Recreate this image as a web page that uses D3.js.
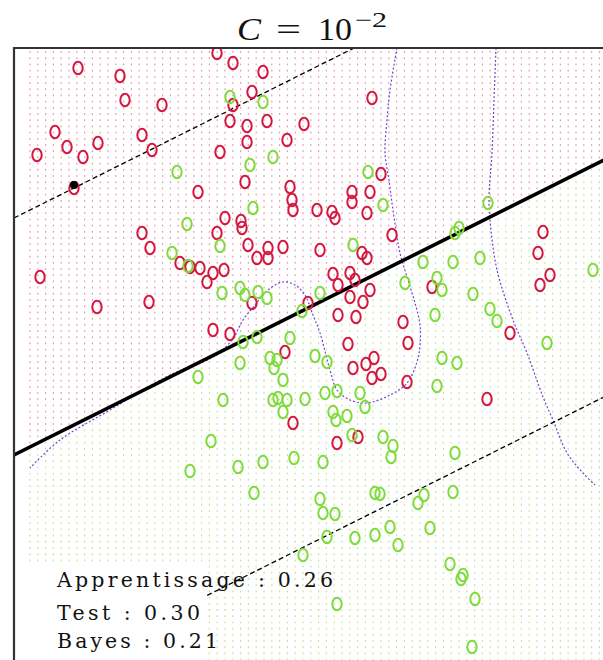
<!DOCTYPE html>
<html>
<head>
<meta charset="utf-8">
<script src="https://cdn.jsdelivr.net/npm/d3@7/dist/d3.min.js"></script>
<style>
  html, body { margin: 0; padding: 0; background: #fff; }
  svg { display: block; }
</style>
</head>
<body>
<svg id="chart" width="603" height="660"></svg>
<script>
// Training sample, class "orange" (drawn red): [x1, x2]
const redPoints = [
  [-1.36, 2.70], [-0.94, 2.62], [-0.89, 2.38], [-0.52, 2.33], [0.03, 2.85],
  [0.19, 2.75], [0.49, 2.66], [0.38, 2.46], [0.19, 2.33], [0.16, 2.17],
  [0.33, 2.12], [0.53, 2.17], [1.58, 2.40], [0.90, 2.14], [-1.59, 2.06],
  [-1.47, 1.91], [-1.31, 1.81], [-1.16, 1.95], [-1.77, 1.83], [-0.72, 2.03],
  [-0.62, 1.88], [-1.40, 1.50], [0.33, 1.96], [0.73, 1.98], [0.06, 1.86],
  [0.31, 1.56], [-0.16, 1.46], [0.76, 1.51], [0.78, 1.38], [0.79, 1.28],
  [0.11, 1.20], [0.27, 1.17], [0.28, 1.10], [-0.72, 1.05], [0.03, 1.05],
  [-0.64, 0.90], [0.34, 0.93], [0.54, 0.90], [0.69, 0.91], [0.43, 0.80],
  [0.54, 0.80], [-0.34, 0.75], [-0.24, 0.71], [-0.14, 0.70], [-0.01, 0.65],
  [-0.07, 0.56], [0.10, 0.68], [-1.74, 0.61], [-1.17, 0.31], [-0.65, 0.36],
  [0.38, 0.35], [1.67, 1.64], [1.38, 1.46], [1.38, 1.36], [1.56, 1.46],
  [1.53, 1.25], [1.03, 1.28], [1.18, 1.26], [1.21, 1.20], [1.78, 1.03],
  [3.29, 1.06], [1.06, 0.88], [1.48, 0.85], [1.53, 0.80], [3.24, 0.85],
  [3.36, 0.63], [3.26, 0.53], [1.19, 0.64], [1.36, 0.65], [1.24, 0.53],
  [1.41, 0.58], [2.18, 0.51], [1.56, 0.48], [1.36, 0.41], [1.49, 0.36],
  [1.24, 0.23], [1.42, 0.21], [0.94, 0.35], [-0.01, 0.08], [0.16, 0.04],
  [0.71, -0.14], [0.79, -0.85], [1.89, 0.16], [1.34, -0.06], [1.94, -0.05],
  [1.39, -0.30], [1.52, -0.26], [1.60, -0.20], [1.58, -0.40], [1.67, -0.36],
  [1.93, -0.44], [2.96, 0.05], [2.73, -0.61], [1.23, -1.05], [1.44, -0.99]
];

// Training sample, class "blue" (drawn green): [x1, x2]
const greenPoints = [
  [0.16, 2.41], [0.49, 2.36], [0.59, 1.81], [0.36, 1.73], [-0.37, 1.66],
  [0.39, 1.30], [-0.27, 1.14], [0.06, 0.92], [-0.42, 0.85], [-0.26, 0.72],
  [0.08, 0.45], [0.26, 0.50], [0.31, 0.43], [0.44, 0.46], [0.53, 0.40],
  [1.54, 1.66], [1.69, 1.33], [2.74, 1.35], [1.39, 0.93], [2.41, 1.05],
  [2.45, 1.10], [2.09, 0.76], [2.39, 0.76], [2.66, 0.80], [3.79, 0.68],
  [1.91, 0.55], [2.23, 0.60], [2.28, 0.48], [2.59, 0.44], [1.06, 0.45],
  [2.21, 0.23], [2.76, 0.29], [2.83, 0.17], [0.88, 0.27], [0.29, -0.04],
  [0.43, 0.01], [0.76, 0.00], [0.26, -0.25], [0.56, -0.20], [0.63, -0.22],
  [0.60, -0.30], [-0.16, -0.39], [0.69, -0.42], [0.09, -0.62], [0.59, -0.62],
  [0.64, -0.60], [0.73, -0.62], [0.69, -0.74], [-0.03, -1.03], [-0.24, -1.33],
  [0.24, -1.29], [0.49, -1.24], [0.80, -1.20], [0.40, -1.55], [1.01, -0.18],
  [1.13, -0.24], [2.28, -0.20], [2.43, -0.25], [3.33, -0.05], [2.23, -0.48],
  [0.91, -0.61], [1.11, -0.55], [1.23, -0.53], [1.46, -0.55], [1.51, -0.69],
  [1.19, -0.74], [1.22, -0.82], [1.33, -0.78], [1.38, -0.97], [1.69, -0.99],
  [1.79, -1.08], [1.77, -1.19], [1.09, -1.24], [2.41, -1.15], [1.61, -1.55],
  [1.66, -1.56], [2.39, -1.54], [2.10, -1.57], [1.06, -1.61], [2.04, -1.65],
  [1.09, -1.75], [1.21, -1.76], [1.13, -1.99], [1.41, -2.00], [1.61, -1.97],
  [1.76, -1.89], [1.84, -2.07], [2.16, -1.90], [0.89, -2.17], [2.36, -2.26],
  [2.49, -2.37], [2.47, -2.41], [2.61, -2.61], [1.23, -2.66], [2.58, -3.09]
];

// Highlighted observation on the upper margin
const markedPoint = [-1.40, 1.53];

// Linear SVM decision function f(x) = b0 + b1*x1 + b2*x2
const svmCoef = [0.0717, -0.211, 0.422];
// Levels drawn: lower margin, boundary, upper margin
const svmLevels = [-1, 0, 1];

// Bayes decision boundary, traced as two pieces
const bayesLeft = [
  [1.83, 2.90], [1.76, 2.48], [1.73, 2.18], [1.71, 1.85], [1.75, 1.58],
  [1.78, 1.35], [1.82, 1.08], [1.86, 0.85], [1.94, 0.58], [2.01, 0.35],
  [2.06, 0.13], [2.06, -0.07], [2.03, -0.24], [1.93, -0.45], [1.76, -0.57],
  [1.53, -0.65], [1.36, -0.62], [1.23, -0.52], [1.16, -0.32], [1.06, 0.05],
  [0.99, 0.23], [0.91, 0.43], [0.81, 0.53], [0.69, 0.56], [0.54, 0.48],
  [0.41, 0.33], [0.29, 0.18], [0.18, -0.02], [-0.01, -0.19], [-0.44, -0.37],
  [-1.04, -0.72], [-1.54, -1.02], [-1.84, -1.30]
];
const bayesRight = [
  [2.82, 2.90], [2.80, 2.38], [2.78, 1.85], [2.75, 1.41], [2.76, 1.18],
  [2.83, 0.68], [2.99, 0.18], [3.13, -0.15], [3.29, -0.59], [3.39, -0.82],
  [3.53, -1.15], [3.69, -1.35], [3.81, -1.47]
];

// Error rates
const errorLabels = ["Apprentissage", "Test", "Bayes"];
const errorValues = [0.26, 0.30, 0.21];

// Display grid used to shade the predicted classes
const gridStepX = 0.078;
const gridStepY = 0.062;

const svg = d3.select("#chart");
const W = 603, H = 660;
const plot = { left: 14, top: 48, right: 603, bottom: 660 };

const x = d3.scaleLinear().domain([-2.0, 4.0]).range([14, 614]);
const y = d3.scaleLinear().domain([2.9, -3.22]).range([48, 660]);

const RED = "#d5173f";
const GREEN = "#7fdb3b";

const svmF = (a, b) => svmCoef[0] + svmCoef[1] * a + svmCoef[2] * b;

svg.append("defs").append("clipPath").attr("id", "plotClip")
  .append("rect")
  .attr("x", plot.left).attr("y", plot.top)
  .attr("width", plot.right - plot.left).attr("height", plot.bottom - plot.top);

const g = svg.append("g").attr("clip-path", "url(#plotClip)");

// Shading grid: one tiny mark per grid node, coloured by the SVM prediction
const gx = d3.range(-1.84, 3.9, gridStepX);
const gy = d3.range(2.86, -3.25, -gridStepY);
const grid = [];
gx.forEach(a => gy.forEach(b => grid.push([a, b])));
g.append("g").selectAll("rect").data(grid).join("rect")
  .attr("x", d => x(d[0]) - 0.6)
  .attr("y", d => y(d[1]) - 0.9)
  .attr("width", 1.2)
  .attr("height", 1.8)
  .attr("fill", d => svmF(d[0], d[1]) > 0 ? "#dc6480" : "#a2d264")
  .attr("opacity", 0.65);

// Bayes boundary
const bayesLine = d3.line().x(d => x(d[0])).y(d => y(d[1])).curve(d3.curveCatmullRom);
[bayesLeft, bayesRight].forEach(seg => {
  g.append("path").datum(seg)
    .attr("d", bayesLine)
    .attr("fill", "none")
    .attr("stroke", "#7a3fd0")
    .attr("stroke-width", 1.2)
    .attr("stroke-dasharray", "2,2");
});

// SVM boundary and margins
const x1Range = x.domain();
svmLevels.forEach(level => {
  const pts = x1Range.map(a => [a, (level - svmCoef[0] - svmCoef[1] * a) / svmCoef[2]]);
  g.append("line")
    .attr("x1", x(pts[0][0])).attr("y1", y(pts[0][1]))
    .attr("x2", x(pts[1][0])).attr("y2", y(pts[1][1]))
    .attr("stroke", "#000")
    .attr("stroke-width", level === 0 ? 3.6 : 1.3)
    .attr("stroke-dasharray", level === 0 ? null : "5,3");
});

// Training points
const drawPoints = (data, colour) => {
  g.append("g").selectAll("ellipse").data(data).join("ellipse")
    .attr("cx", d => x(d[0]))
    .attr("cy", d => y(d[1]))
    .attr("rx", 4.7)
    .attr("ry", 6.2)
    .attr("fill", "none")
    .attr("stroke", colour)
    .attr("stroke-width", 2);
};
drawPoints(redPoints, RED);
drawPoints(greenPoints, GREEN);

g.append("circle")
  .attr("cx", x(markedPoint[0])).attr("cy", y(markedPoint[1]))
  .attr("r", 4).attr("fill", "#000");

// Error-rate legend box
svg.append("rect")
  .attr("x", plot.left + 1).attr("y", 563)
  .attr("width", 191).attr("height", H - 563)
  .attr("fill", "#fff");

const legendWidths = [276, 143, 161];
const legendBase = [587, 620, 648];
errorLabels.forEach((lab, i) => {
  svg.append("text")
    .attr("x", 57).attr("y", legendBase[i])
    .attr("font-family", "'DejaVu Serif', serif")
    .attr("font-size", 20.5)
    .attr("fill", "#111")
    .attr("textLength", legendWidths[i])
    .attr("lengthAdjust", "spacing")
    .text(`${lab} : ${errorValues[i].toFixed(2)}`);
});

// Frame (left and top edges)
svg.append("path")
  .attr("d", `M${plot.left},${H} L${plot.left},${plot.top} L${W},${plot.top}`)
  .attr("fill", "none")
  .attr("stroke", "#333")
  .attr("stroke-width", 2.2);

// Title, laid out piece by piece
const titleFont = "'Liberation Serif', serif";
const titleParts = [
  { text: "C", x: 237, y: 40, size: 31, italic: true, len: 24 },
  { text: "=", x: 276, y: 40, size: 31, italic: false, len: 25 },
  { text: "10", x: 318, y: 40, size: 31, italic: false, len: 34 },
  { text: "\u22122", x: 355, y: 27, size: 21, italic: false, len: 32 }
];
titleParts.forEach(p => {
  svg.append("text")
    .attr("x", p.x).attr("y", p.y)
    .attr("font-family", titleFont)
    .attr("font-size", p.size)
    .attr("font-style", p.italic ? "italic" : "normal")
    .attr("fill", "#111")
    .attr("textLength", p.len)
    .attr("lengthAdjust", "spacingAndGlyphs")
    .text(p.text);
});
</script>
</body>
</html>
